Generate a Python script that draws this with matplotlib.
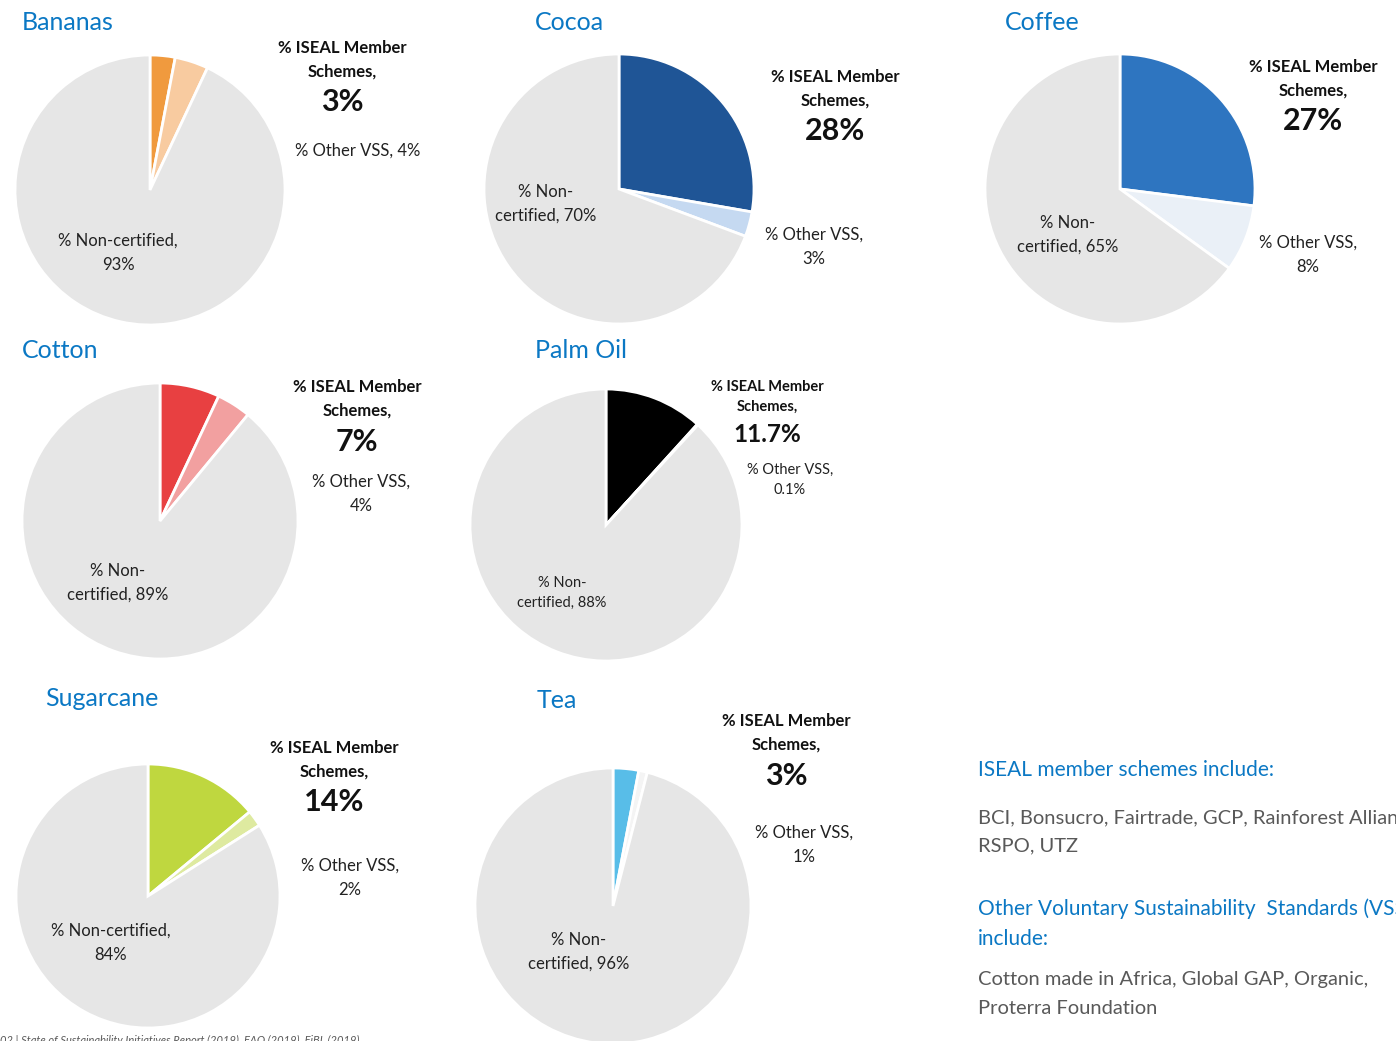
import matplotlib

matplotlib.use("Agg")
import matplotlib.pyplot as plt

W, H = 1396, 1041

crops = ["Bananas", "Cocoa", "Coffee", "Cotton", "Palm Oil", "Sugarcane", "Tea"]
iseal_pct = [3, 28, 27, 7, 11.7, 14, 3]
other_pct = [4, 3, 8, 4, 0.1, 2, 1]
noncert_pct = [93, 70, 65, 89, 88, 84, 96]

iseal_labels = ["3%", "28%", "27%", "7%", "11.7%", "14%", "3%"]
other_labels = ["% Other VSS, 4%", "% Other VSS,\n3%", "% Other VSS,\n8%", "% Other VSS,\n4%",
                "% Other VSS,\n0.1%", "% Other VSS,\n2%", "% Other VSS,\n1%"]
noncert_labels = ["% Non-certified,\n93%", "% Non-\ncertified, 70%", "% Non-\ncertified, 65%",
                  "% Non-\ncertified, 89%", "% Non-\ncertified, 88%", "% Non-certified,\n84%",
                  "% Non-\ncertified, 96%"]

iseal_colors = ["#F09A3E", "#1F5596", "#2E75C0", "#E84041", "#000000", "#BFD73F", "#58BDE8"]
other_colors = ["#F8CBA0", "#C5D9F1", "#EAF0F7", "#F2A0A0", "#D9D9D9", "#DEEAA0", "#F4F4F4"]
GREY = "#E6E6E6"
BLUE = "#0B78C4"
FONT = ["Lato", "DejaVu Sans"]

# layout in pixel coordinates (y measured from the top)
pie_xy = [(150, 190), (619, 189), (1120, 189), (160, 521), (606, 525), (148, 896), (613, 906)]
pie_r = [135, 135, 135, 138, 136, 132, 138]
title_xy = [(22, 22), (535, 22), (1005, 22), (22, 351), (535, 351), (45, 699), (537, 700)]
iseal_xy = [(342, 60), (835, 89), (1313, 79), (357, 399), (767, 397), (334, 760), (786, 733)]
iseal_big_y = [102, 131, 121, 442, 434, 802, 776]
other_xy = [(358, 151), (814, 247), (1308, 255), (361, 494), (790, 480), (350, 878), (804, 845)]
noncert_xy = [(118, 253), (546, 204), (1068, 235), (118, 583), (562, 593), (111, 943), (579, 952)]
small = [False, False, False, False, True, False, False]


def fy(y):
    return H - y


fig = plt.figure(figsize=(W / 100, H / 100), dpi=100)
ax = fig.add_axes([0, 0, 1, 1])

for i, crop in enumerate(crops):
    cx, cy = pie_xy[i]
    ax.pie([iseal_pct[i], other_pct[i], noncert_pct[i]],
           colors=[iseal_colors[i], other_colors[i], GREY],
           startangle=90, counterclock=False, normalize=True,
           center=(cx, fy(cy)), radius=pie_r[i],
           wedgeprops=dict(edgecolor="white", linewidth=2))

    tx, ty = title_xy[i]
    ax.text(tx, fy(ty), crop, color=BLUE, fontsize=18, ha="left", va="center", family=FONT)

    fs = 10.5 if small[i] else 12
    big = 17.5 if small[i] else 22
    sp = 1.5 if small[i] else 1.6
    lx, ly = iseal_xy[i]
    ax.text(lx, fy(ly), "% ISEAL Member\nSchemes,", fontsize=fs, fontweight="bold", ha="center",
            va="center", linespacing=sp, family=FONT, color="#111111")
    ax.text(lx, fy(iseal_big_y[i]), iseal_labels[i], fontsize=big, fontweight="bold", ha="center",
            va="center", family=FONT, color="#111111")

    ox, oy = other_xy[i]
    ax.text(ox, fy(oy), other_labels[i], fontsize=fs, ha="center", va="center",
            linespacing=sp, family=FONT, color="#222222")
    nx, ny = noncert_xy[i]
    ax.text(nx, fy(ny), noncert_labels[i], fontsize=fs, ha="center", va="center",
            linespacing=sp, family=FONT, color="#222222")

# side notes (clipped at the right edge as in the source slide)
ax.text(978, fy(770), "ISEAL member schemes include:", color=BLUE, fontsize=15, va="center", family=FONT)
ax.text(978, fy(832), "BCI, Bonsucro, Fairtrade, GCP, Rainforest Alliance,\nRSPO, UTZ", color="#595959",
        fontsize=14.5, va="center", linespacing=1.75, family=FONT)
ax.text(978, fy(924), "Other Voluntary Sustainability  Standards (VSS)\ninclude:", color=BLUE,
        fontsize=15, va="center", linespacing=1.6, family=FONT)
ax.text(978, fy(994), "Cotton made in Africa, Global GAP, Organic,\nProterra Foundation", color="#595959",
        fontsize=14.5, va="center", linespacing=1.85, family=FONT)
ax.text(0, fy(1035), "02 | State of Sustainability Initiatives Report (2019), FAO (2019), FiBL (2019)",
        color="#595959", fontsize=8, style="italic", va="top", family=FONT)

ax.set_xlim(0, W)
ax.set_ylim(0, H)
ax.set_aspect("auto")
ax.axis("off")
fig.savefig("out.png", dpi=100)
